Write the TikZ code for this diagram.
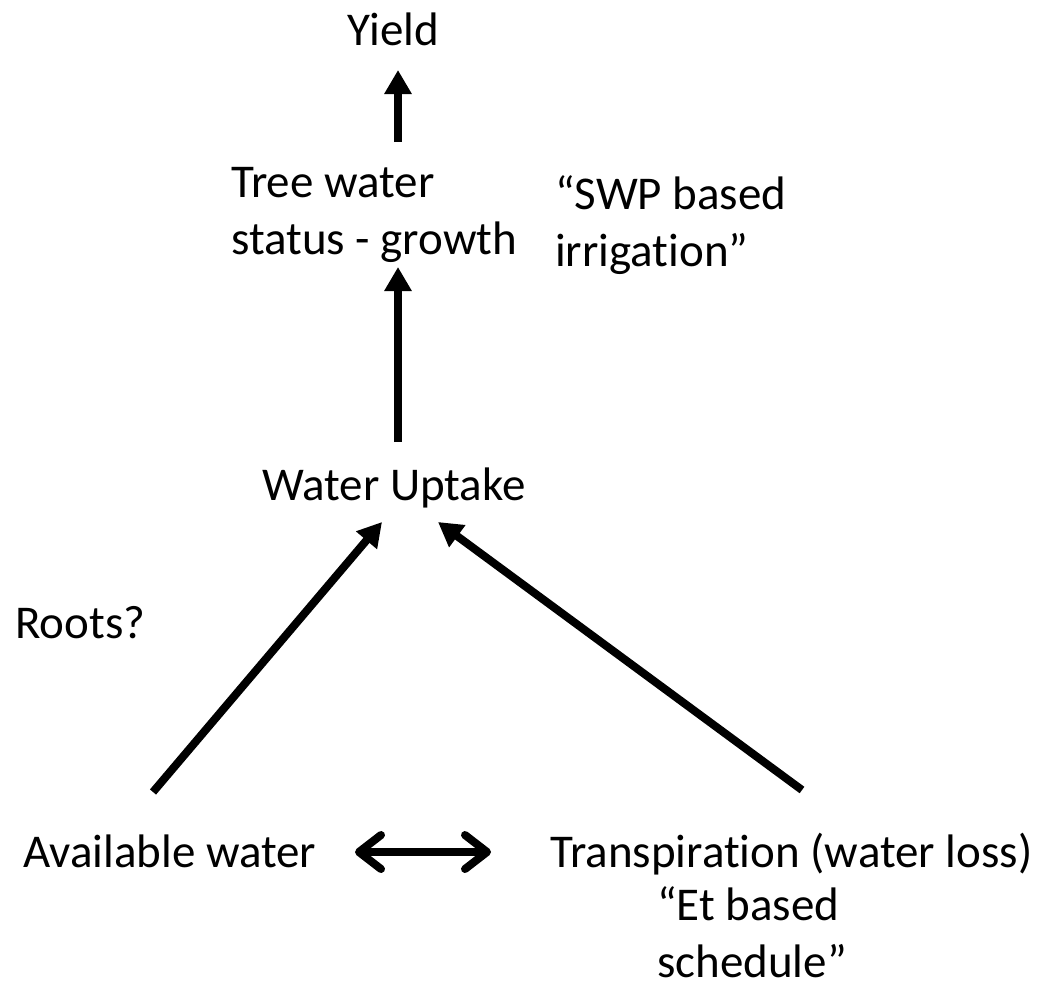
\documentclass[tikz,border=0pt]{standalone}
\usepackage{fontspec}
\setmainfont{Carlito}[Ligatures=NoCommon]
\usetikzlibrary{arrows.meta}

\begin{document}
\begin{tikzpicture}[
      x=1pt, y=-1pt,
      txt/.style = {inner sep=0pt, anchor=base west, align=left,
                    font=\fontsize{47}{57}\selectfont},
      arr/.style = {-{Triangle[length=24pt,width=26pt]}, line width=8pt},
      dbl/.style = {{Straight Barb[length=22pt,width=34pt,round]}-{Straight Barb[length=22pt,width=34pt,round]},
                    line width=8pt, line cap=round}
    ]
    \useasboundingbox (0,0) rectangle (1056,988);
    % text (multi-line nodes sit on their last line)
    \node[txt] (yield)  at (347,45)  {Yield};
    \node[txt] (status) at (231,254) {Tree water\\status - growth};
    \node[txt] (swp)    at (555,266) {“SWP based\\irrigation”};
    \node[txt] (uptake) at (262,500) {Water Uptake};
    \node[txt] (roots)  at (15,638)  {Roots?};
    \node[txt] (avail)  at (23,867)  {Available water};
    \node[txt] (transp) at (550,867) {Transpiration (water loss)};
    \node[txt] (et)     at (657,977) {“Et based\\schedule”};
    % arrow ends
    \coordinate (yieldIn)  at (398,70);
    \coordinate (statusOut) at (398,142);
    \coordinate (statusIn) at (398,267);
    \coordinate (uptakeOut) at (398,442);
    \coordinate (uptakeL)  at (382,522);
    \coordinate (uptakeR)  at (438,522);
    \coordinate (availOut) at (153,792);
    \coordinate (transpOut) at (802,790);
    \coordinate (availR)   at (355,852);
    \coordinate (transpL)  at (491,852);
    % arrows
    \draw[arr] (statusOut) -- (yieldIn);
    \draw[arr] (uptakeOut) -- (statusIn);
    \draw[arr] (availOut)  -- (uptakeL);
    \draw[arr] (transpOut) -- (uptakeR);
    \draw[dbl] (availR)    -- (transpL);
  \end{tikzpicture}
\end{document}
